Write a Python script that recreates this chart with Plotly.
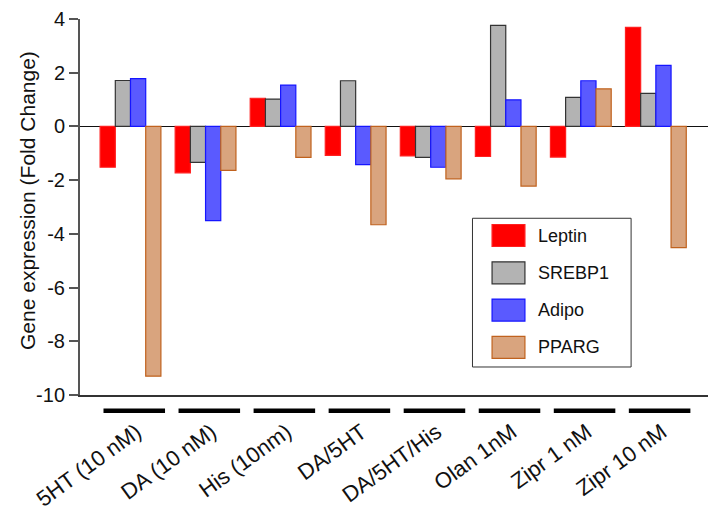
import plotly.graph_objects as go

categories = ["5HT (10 nM)", "DA (10 nM)", "His (10nm)", "DA/5HT", "DA/5HT/His",
              "Olan 1nM", "Zipr 1 nM", "Zipr 10 nM"]
leptin = [-1.52, -1.73, 1.05, -1.08, -1.10, -1.12, -1.14, 3.69]
srebp1 = [1.71, -1.34, 1.02, 1.70, -1.15, 3.76, 1.08, 1.23]
adipo = [1.78, -3.51, 1.54, -1.42, -1.52, 0.99, 1.70, 2.27]
pparg = [-9.30, -1.64, -1.15, -3.66, -1.95, -2.22, 1.40, -4.51]
series_names = ["Leptin", "SREBP1", "Adipo", "PPARG"]
y_ticks = [-10, -8, -6, -4, -2, 0, 2, 4]
y_tick_text = ["-10", "-8", "-6", "-4", "-2", "0", "2", "4"]

series_values = [leptin, srebp1, adipo, pparg]
fills = ["#FF0000", "#B3B3B3", "#5A5AFF", "#D9A47E"]
borders = ["#FF2020", "#333333", "#1515FF", "#C0621E"]

FONT = "Liberation Sans, Arial, Helvetica, sans-serif"

fig = go.Figure()
for name, vals, fc, bc in zip(series_names, series_values, fills, borders):
    fig.add_trace(go.Bar(
        x=list(range(len(categories))), y=vals, name=name,
        marker=dict(color=fc, line=dict(color=bc, width=1.2)),
        showlegend=False,
    ))

shapes = []
# black dashes under each group
for i in range(len(categories)):
    shapes.append(dict(type="line", xref="x", yref="paper",
                       x0=i - 0.36, x1=i + 0.46, y0=-0.042, y1=-0.042,
                       line=dict(color="black", width=4.5)))

# custom legend box
lx0, lx1, ly0, ly1 = 0.621, 0.872, 0.0745, 0.470
shapes.append(dict(type="rect", xref="paper", yref="paper",
                   x0=lx0, x1=lx1, y0=ly0, y1=ly1,
                   line=dict(color="#333333", width=1), fillcolor="white"))
annotations = []
sw_x0, sw_x1 = 0.652, 0.704
step = 37.3 / 376.0
top_center = (395 - 235.5) / 376.0
for k, (name, fc, bc) in enumerate(zip(series_names, fills, borders)):
    yc = top_center - k * step
    h = 11.0 / 376.0
    shapes.append(dict(type="rect", xref="paper", yref="paper",
                       x0=sw_x0, x1=sw_x1, y0=yc - h, y1=yc + h,
                       line=dict(color=bc, width=1.2), fillcolor=fc))
    annotations.append(dict(xref="paper", yref="paper", x=0.7215, y=yc,
                            text=name, showarrow=False, xanchor="left",
                            yanchor="middle",
                            font=dict(family=FONT, size=18, color="#111111")))

annotations.append(dict(xref="paper", yref="paper", x=-0.082, y=0.5165,
                        text="Gene expression (Fold Change)", textangle=-90,
                        showarrow=False, xanchor="center", yanchor="middle",
                        font=dict(family=FONT, size=21, color="#111111")))

# page body has an 8px margin, so the figure is drawn 8px in from the window edge
fig.update_layout(
    width=708, height=498,
    margin=dict(l=72, r=4, t=11, b=111),
    paper_bgcolor="white", plot_bgcolor="white",
    barmode="group", bargap=0.19, bargroupgap=0,
    shapes=shapes, annotations=annotations,
    font=dict(family=FONT, size=20, color="#111111"),
)
fig.update_xaxes(
    range=[-0.673, 7.748], automargin=False,
    tickmode="array", tickvals=list(range(len(categories))), ticktext=categories,
    tickangle=-36, ticks="", showgrid=False, zeroline=False,
    showline=True, linecolor="#333333", linewidth=1.5,
    tickfont=dict(family=FONT, size=22, color="#111111"),
    ticklabelstandoff=14, ticklabelshift=6,
)
fig.update_yaxes(
    range=[-10, 4], automargin=False,
    tickmode="array", tickvals=y_ticks, ticktext=y_tick_text,
    ticks="outside", ticklen=9, tickwidth=1.5, tickcolor="#555555",
    showline=True, linecolor="#555555", linewidth=2,
    showgrid=False, zeroline=True, zerolinecolor="#111111", zerolinewidth=1.3,
    tickfont=dict(family=FONT, size=20, color="#111111"),
)

fig.write_html("out.html")
